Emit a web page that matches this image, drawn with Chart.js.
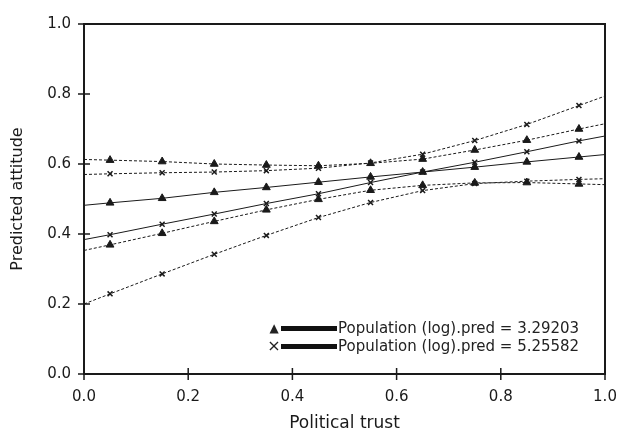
<!DOCTYPE html>
<html>
<head>
<meta charset="utf-8">
<script src="https://cdn.jsdelivr.net/npm/chart.js@4/dist/chart.umd.min.js"></script>
<style>
    body { margin: 0; background: #fff; }
    #wadah { position: relative; width: 618px; height: 434px; }
    .legenda { position: absolute; left: 267px; height: 18px; font-family: "DejaVu Sans", sans-serif; font-size: 15px; color: #222; display: flex; align-items: center; white-space: nowrap; }
    .legenda .tanda { width: 14px; text-align: center; font-size: 12px; line-height: 18px; }
    .legenda .garis { width: 56px; height: 5px; background: #111; margin: 0 1px 0 0; }
</style>
</head>
<body>
<div id="wadah">
    <canvas id="grafik" width="618" height="434"></canvas>
    <div class="legenda" style="top: 319px;"><span class="tanda">&#9650;</span><span class="garis"></span><span id="label1"></span></div>
    <div class="legenda" style="top: 337px;"><span class="tanda" style="font-size:16px">&times;</span><span class="garis"></span><span id="label2"></span></div>
</div>
<script>
// posisi x: ujung 0 dan 1 tanpa penanda
const trust = [0, 0.05, 0.15, 0.25, 0.35, 0.45, 0.55, 0.65, 0.75, 0.85, 0.95, 1];

const pred1Fit = [0.482, 0.489, 0.502, 0.519, 0.533, 0.548, 0.563, 0.577, 0.591, 0.606, 0.620, 0.627];
const pred1Atas = [0.613, 0.611, 0.607, 0.600, 0.597, 0.595, 0.602, 0.614, 0.640, 0.668, 0.700, 0.715];
const pred1Bawah = [0.353, 0.369, 0.402, 0.436, 0.469, 0.499, 0.525, 0.539, 0.546, 0.547, 0.543, 0.541];

const pred2Fit = [0.384, 0.398, 0.428, 0.457, 0.487, 0.515, 0.547, 0.577, 0.605, 0.635, 0.666, 0.680];
const pred2Atas = [0.570, 0.572, 0.575, 0.577, 0.581, 0.588, 0.603, 0.628, 0.667, 0.713, 0.767, 0.794];
const pred2Bawah = [0.200, 0.229, 0.286, 0.342, 0.396, 0.447, 0.490, 0.524, 0.544, 0.551, 0.556, 0.558];

const labelSeri = ["Population (log).pred = 3.29203", "Population (log).pred = 5.25582"];
const tickX = [0, 0.2, 0.4, 0.6, 0.8, 1.0];
const tickY = [0, 0.2, 0.4, 0.6, 0.8, 1.0];

const warna = "#1a1a1a";
const huruf = '"DejaVu Sans", sans-serif';

document.getElementById("label1").textContent = labelSeri[0];
document.getElementById("label2").textContent = labelSeri[1];

function buatSeri(label, nilai, gaya, putus) {
    return {
        label: label,
        data: trust.map((x, i) => ({ x: x, y: nilai[i] })),
        borderColor: warna,
        backgroundColor: warna,
        borderWidth: 1,
        borderDash: putus ? [3, 2] : [],
        pointStyle: gaya,
        pointRadius: trust.map((x) => (x === 0 || x === 1 ? 0 : gaya === "triangle" ? 4.5 : 3.5)),
        pointBorderWidth: gaya === "triangle" ? 1 : 1.5,
        pointBorderColor: warna,
        pointBackgroundColor: warna,
        tension: 0,
    };
}

// garis tepi atas/kanan dan tanda tick yang menembus sumbu
const bingkai = {
    id: "bingkai",
    afterDraw(chart) {
        const { ctx, chartArea: a, scales } = chart;
        ctx.save();
        ctx.strokeStyle = warna;
        ctx.lineWidth = 2;
        ctx.beginPath();
        ctx.moveTo(a.left, a.top);
        ctx.lineTo(a.right, a.top);
        ctx.lineTo(a.right, a.bottom);
        ctx.stroke();
        ctx.lineWidth = 1.5;
        ctx.beginPath();
        tickX.forEach((v) => {
            const px = scales.x.getPixelForValue(v);
            ctx.moveTo(px, a.bottom - 6);
            ctx.lineTo(px, a.bottom + 6);
        });
        tickY.forEach((v) => {
            const py = scales.y.getPixelForValue(v);
            ctx.moveTo(a.left - 6, py);
            ctx.lineTo(a.left + 6, py);
        });
        ctx.stroke();
        ctx.restore();
    },
};

new Chart(document.getElementById("grafik"), {
    type: "line",
    data: {
        datasets: [
            buatSeri(labelSeri[0], pred1Atas, "triangle", true),
            buatSeri(labelSeri[0], pred1Fit, "triangle", false),
            buatSeri(labelSeri[0], pred1Bawah, "triangle", true),
            buatSeri(labelSeri[1], pred2Atas, "crossRot", true),
            buatSeri(labelSeri[1], pred2Fit, "crossRot", false),
            buatSeri(labelSeri[1], pred2Bawah, "crossRot", true),
        ],
    },
    options: {
        responsive: false,
        animation: false,
        layout: {
            padding: { top: 24, right: 13, left: 0, bottom: 0 },
        },
        plugins: {
            legend: { display: false },
            tooltip: { enabled: false },
        },
        scales: {
            x: {
                type: "linear",
                min: 0,
                max: 1,
                afterFit: (s) => {
                    s.height = 60;
                    s.paddingLeft = 0;
                    s.paddingRight = 0;
                },
                afterBuildTicks: (s) => { s.ticks = tickX.map((v) => ({ value: v })); },
                grid: { drawOnChartArea: false, drawTicks: false },
                border: { display: true, color: warna, width: 2 },
                ticks: {
                    padding: 14,
                    color: warna,
                    font: { family: huruf, size: 15 },
                    callback: (v) => Number(v).toFixed(1),
                },
                title: {
                    display: true,
                    text: "Political trust",
                    color: warna,
                    font: { family: huruf, size: 17 },
                    padding: { top: 0, bottom: 0 },
                },
            },
            y: {
                min: 0,
                max: 1,
                afterFit: (s) => {
                    s.width = 84;
                    s.paddingTop = 0;
                    s.paddingBottom = 0;
                },
                afterBuildTicks: (s) => { s.ticks = tickY.map((v) => ({ value: v })); },
                grid: { drawOnChartArea: false, drawTicks: false },
                border: { display: true, color: warna, width: 2 },
                ticks: {
                    padding: 13,
                    color: warna,
                    font: { family: huruf, size: 15 },
                    callback: (v) => Number(v).toFixed(1),
                },
                title: {
                    display: true,
                    text: "Predicted attitude",
                    color: warna,
                    font: { family: huruf, size: 16 },
                    padding: { top: 8, bottom: 0 },
                },
            },
        },
    },
    plugins: [bingkai],
});
</script>
</body>
</html>
